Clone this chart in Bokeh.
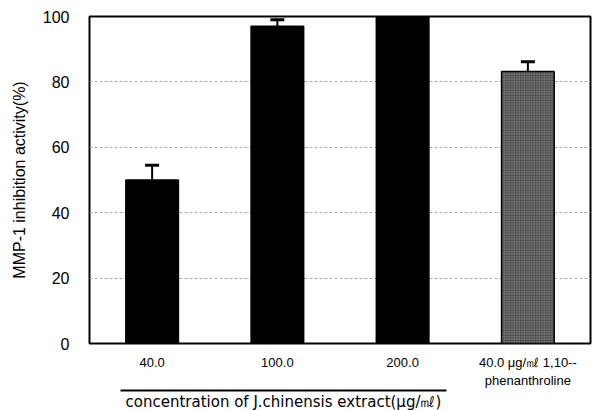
from bokeh.plotting import figure
from bokeh.models import ColumnDataSource, Whisker, TeeHead, LinearAxis, Range1d, FixedTicker, Title
from bokeh.embed import file_html
from bokeh.resources import INLINE

categories = ["40.0", "100.0", "200.0", "40.0 \u03bcg/\u3396 1,10--\nphenanthroline"]
values = [50.0, 97.0, 100.0, 83.2]
errors = [4.5, 2.0, 0.0, 3.0]
fills = ["black", "black", "black", "#505050"]
hatches = ["", "", "", "."]
y_ticks = [0, 20, 40, 60, 80, 100]
group_label = "concentration of J.chinensis extract(\u03bcg/\u3396)"
group_members = 3  # first three categories belong to the extract group

FONT = "Liberation Sans"

xpos = [i + 0.5 for i in range(len(categories))]

src = ColumnDataSource(dict(x=xpos, val=values, fill=fills, hatch=hatches))

p = figure(x_range=Range1d(0, len(categories)), y_range=Range1d(0, 100), width=592, height=410,
           output_backend="svg", toolbar_location=None,
           min_border_left=89, min_border_top=16, min_border_right=2, min_border_bottom=67)

p.vbar(x="x", top="val", width=0.42, source=src, fill_color="fill",
       line_color="black", line_width=1.5, hatch_pattern="hatch",
       hatch_color="#a8a8a8", hatch_scale=2.5, hatch_weight=1)

sel = [i for i, e in enumerate(errors) if e > 0]
err_src = ColumnDataSource(dict(x=[xpos[i] for i in sel],
                                lo=[values[i] for i in sel],
                                hi=[values[i] + errors[i] for i in sel]))
w = Whisker(base="x", lower="lo", upper="hi", source=err_src, line_color="black",
            line_width=2, upper_head=TeeHead(size=14, line_width=3, line_color="black"),
            lower_head=None)
p.add_layout(w)

p.outline_line_color = "black"
p.outline_line_width = 2
p.xgrid.grid_line_color = None
p.ygrid.grid_line_color = "#aaaaaa"
p.ygrid.grid_line_dash = "3 2"
p.ygrid.grid_line_width = 1

p.yaxis.ticker = FixedTicker(ticks=y_ticks)
p.yaxis.axis_line_color = None
p.yaxis.major_tick_line_color = None
p.yaxis.minor_tick_line_color = None
p.yaxis.major_label_text_font = FONT
p.yaxis.major_label_text_font_size = "16px"
p.yaxis.major_label_text_color = "black"
p.yaxis.major_label_standoff = 14
p.yaxis.axis_label = "MMP-1 inhibition activity(%)"
p.yaxis.axis_label_text_font = FONT
p.yaxis.axis_label_text_font_style = "normal"
p.yaxis.axis_label_text_font_size = "16px"
p.yaxis.axis_label_text_color = "black"
p.yaxis.axis_label_standoff = 12

p.xaxis.ticker = FixedTicker(ticks=xpos)
p.xaxis.major_label_overrides = {x: c for x, c in zip(xpos, categories)}
p.xaxis.axis_line_color = None
p.xaxis.major_tick_line_color = None
p.xaxis.minor_tick_line_color = None
p.xaxis.major_label_text_font = FONT
p.xaxis.major_label_text_font_size = "13px"
p.xaxis.major_label_text_color = "black"
p.xaxis.major_label_standoff = 5

bounds = (0.25, group_members - 0.15)
ax2 = LinearAxis(bounds=bounds)
ax2.ticker = FixedTicker(ticks=[])
ax2.major_label_text_font_size = "0px"
ax2.major_tick_line_color = None
ax2.minor_tick_line_color = None
ax2.axis_line_color = "black"
ax2.axis_line_width = 2
p.add_layout(ax2, "below")

t = Title(text=group_label, align="left", offset=36, standoff=0,
          text_font="DejaVu Sans", text_font_size="15px", text_font_style="normal",
          text_color="black")
p.add_layout(t, "below")

open("out.html", "w").write(file_html(p, INLINE))
